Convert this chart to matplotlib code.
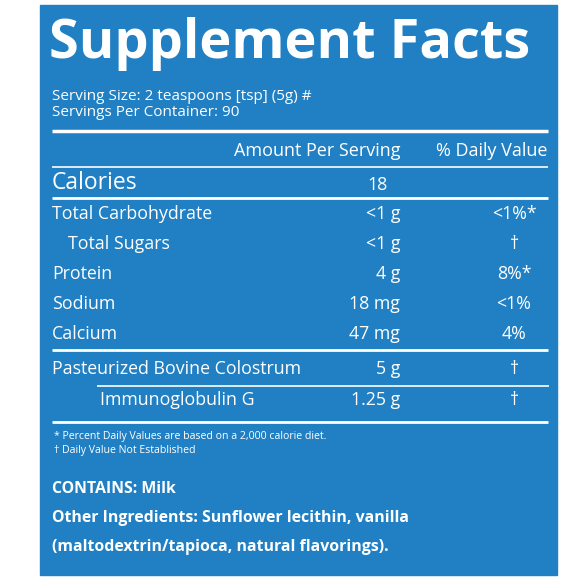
import matplotlib.pyplot as plt
from matplotlib.patches import Rectangle

blue = '#2080c3'
serving = ['Serving Size: 2 teaspoons [tsp] (5g) #', 'Servings Per Container: 90']
nutrients = ['Total Carbohydrate', 'Total Sugars', 'Protein', 'Sodium', 'Calcium']
amounts = ['<1 g', '<1 g', '4 g', '18 mg', '47 mg']
daily = ['<1%*', '\u2020', '8%*', '<1%', '4%']
indent = [0, 1, 0, 0, 0]
extra = ['Pasteurized Bovine Colostrum', 'Immunoglobulin G']
extra_amt = ['5 g', '1.25 g']
extra_dv = ['\u2020', '\u2020']
notes = ['* Percent Daily Values are based on a 2,000 calorie diet.',
         '\u2020 Daily Value Not Established']

plt.rcParams['font.family'] = ['Open Sans', 'DejaVu Sans']
fig = plt.figure(figsize=(5.85, 5.86), dpi=100)
ax = fig.add_axes([0, 0, 1, 1])
ax.set_xlim(0, 585)
ax.set_ylim(586, 0)
ax.axis('off')
ax.add_patch(Rectangle((40, 5), 517, 570, color=blue))

w = 'white'
fs = 12.8
ax.text(49, 44, 'Supplement Facts', color=w, fontsize=39, fontweight='bold', va='center')
for i, s in enumerate(serving):
    ax.text(52, 96 + i * 17, s, color=w, fontsize=11, va='center')

def hline(y, lw, x0=52, x1=548):
    ax.plot([x0, x1], [y, y], color=w, lw=lw, solid_capstyle='butt')

hline(131, 2.5)
ax.text(400, 151, 'Amount Per Serving', color=w, fontsize=13, ha='right', va='center')
ax.text(548, 151, '% Daily Value', color=w, fontsize=13, ha='right', va='center')
hline(167, 1.2)
ax.text(52, 183, 'Calories', color=w, fontsize=16.5, va='center')
ax.text(377, 185, '18', color=w, fontsize=fs, ha='center', va='center')
hline(198, 2)
for i, n in enumerate(nutrients):
    y = 214 + i * 30
    ax.text(52 + indent[i] * 16, y, n, color=w, fontsize=fs, va='center')
    ax.text(400, y, amounts[i], color=w, fontsize=fs, ha='right', va='center')
    ax.text(514, y, daily[i], color=w, fontsize=fs, ha='center', va='center')
hline(350, 2)
for i, n in enumerate(extra):
    y = 369 + i * 31
    ax.text(52 + i * 48, y, n, color=w, fontsize=fs, va='center')
    ax.text(400, y, extra_amt[i], color=w, fontsize=fs, ha='right', va='center')
    ax.text(514, y, extra_dv[i], color=w, fontsize=fs, ha='center', va='center')
hline(386, 1.2, 97, 549)
hline(422, 2)
for i, s in enumerate(notes):
    ax.text(54, 436 + i * 14, s, color=w, fontsize=7.6, va='center')

ax.text(52, 489, 'CONTAINS: Milk', color=w, fontsize=11.4, fontweight='bold', va='center')
ax.text(52, 518, 'Other Ingredients: Sunflower lecithin, vanilla', color=w, fontsize=11.4,
        fontweight='bold', va='center')
ax.text(52, 547, '(maltodextrin/tapioca, natural flavorings).', color=w, fontsize=11.4,
        fontweight='bold', va='center')

fig.savefig('out.png', dpi=100)
